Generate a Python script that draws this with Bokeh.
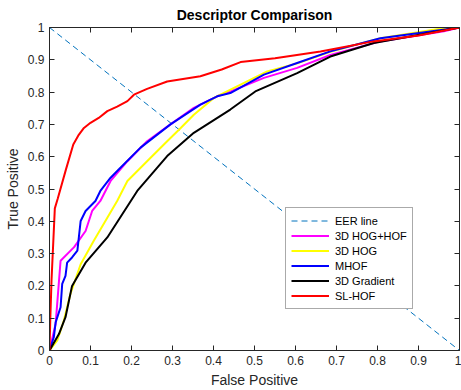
from bokeh.plotting import figure
from bokeh.models import (Range1d, LinearAxis, FixedTicker, NumeralTickFormatter, Legend,
                          LegendItem, CustomLabelingPolicy)
from bokeh.embed import file_html
from bokeh.resources import INLINE

# ---- data ----
eer_x = [0.0, 1.0]
eer_y = [1.0, 0.0]

hoghof_x = [0, 0.015, 0.027, 0.06, 0.088, 0.104, 0.124, 0.149, 0.19, 0.238, 0.295, 0.352, 0.409, 0.441, 0.523, 0.604, 0.685, 0.807, 0.962, 1.0]
hoghof_y = [0, 0.083, 0.278, 0.32, 0.37, 0.432, 0.463, 0.525, 0.586, 0.648, 0.70, 0.751, 0.787, 0.802, 0.844, 0.875, 0.915, 0.957, 0.988, 1.0]

hog_x = [0, 0.019, 0.035, 0.051, 0.076, 0.108, 0.141, 0.165, 0.19, 0.238, 0.287, 0.32, 0.352, 0.401, 0.466, 0.531, 0.604, 0.685, 0.807, 0.96, 1.0]
hog_y = [0, 0.031, 0.093, 0.175, 0.267, 0.34, 0.411, 0.463, 0.525, 0.586, 0.648, 0.689, 0.73, 0.782, 0.823, 0.864, 0.889, 0.925, 0.967, 0.998, 1.0]

mhof_x = [0, 0.0105, 0.015, 0.027, 0.031, 0.039, 0.043, 0.055, 0.068, 0.076, 0.088, 0.112, 0.124, 0.149, 0.173, 0.222, 0.295, 0.368, 0.409, 0.441, 0.523, 0.604, 0.685, 0.807, 1.0]
mhof_y = [0, 0.041, 0.087, 0.134, 0.206, 0.231, 0.272, 0.288, 0.309, 0.401, 0.432, 0.463, 0.494, 0.535, 0.566, 0.628, 0.70, 0.761, 0.787, 0.797, 0.854, 0.89, 0.926, 0.967, 1.0]

grad_x = [0, 0.023, 0.039, 0.055, 0.088, 0.141, 0.214, 0.287, 0.352, 0.441, 0.502, 0.604, 0.685, 0.791, 1.0]
grad_y = [0, 0.051, 0.103, 0.20, 0.272, 0.35, 0.494, 0.602, 0.674, 0.746, 0.802, 0.859, 0.91, 0.952, 1.0]

slhof_x = [0, 0.002, 0.005, 0.013, 0.02, 0.04, 0.058, 0.07, 0.084, 0.1, 0.12, 0.141, 0.165, 0.19, 0.206, 0.238, 0.287, 0.368, 0.42, 0.466, 0.55, 0.661, 0.79, 0.9, 1.0]
slhof_y = [0, 0.1, 0.22, 0.44, 0.47, 0.56, 0.638, 0.665, 0.689, 0.705, 0.72, 0.741, 0.755, 0.772, 0.792, 0.81, 0.833, 0.849, 0.87, 0.893, 0.905, 0.926, 0.957, 0.975, 1.0]

ticks = [0, 0.1, 0.2, 0.3, 0.4, 0.5, 0.6, 0.7, 0.8, 0.9, 1.0]

FONT = "Liberation Sans"
AX = "#262626"

p = figure(width=461, height=390, output_backend="svg", toolbar_location=None,
           x_range=Range1d(0, 1), y_range=Range1d(0, 1),
           x_axis_label="False Positive", y_axis_label="True Positive",
           min_border_left=49, min_border_right=2, min_border_top=26, min_border_bottom=40)
p.title.text = "Descriptor Comparison"
p.title.align = "center"
p.title.text_font = FONT
p.title.text_font_size = "14px"
p.title.text_font_style = "bold"
p.title.text_color = "#000000"
p.title.offset = 0
p.title.standoff = 9

p.grid.visible = False
p.outline_line_color = None
p.background_fill_color = "white"

p.add_layout(LinearAxis(), "above")
p.add_layout(LinearAxis(), "right")

for ax in p.axis:
    ax.ticker = FixedTicker(ticks=ticks)
    ax.formatter = NumeralTickFormatter(format="0.[0]")
    ax.major_tick_in = 5
    ax.major_tick_out = 0
    ax.minor_tick_line_color = None
    ax.axis_line_color = AX
    ax.major_tick_line_color = AX
    ax.major_label_text_font = FONT
    ax.major_label_text_font_size = "12px"
    ax.major_label_text_color = AX
    ax.axis_label_text_font = FONT
    ax.axis_label_text_font_size = "14px"
    ax.axis_label_text_font_style = "normal"
    ax.axis_label_text_color = AX
    ax.major_label_standoff = 5
    ax.axis_label_standoff = 4

# top and right axes: ticks only, no labels (box like the reference)
for ax in (p.above[0], p.right[0]):
    ax.major_label_policy = CustomLabelingPolicy(code="return [];")
    ax.major_label_text_font_size = "0px"
    ax.major_label_standoff = 0

r_eer = p.line(eer_x, eer_y, line_color="#0072BD", line_width=1, line_dash="6 4")
r1 = p.line(hoghof_x, hoghof_y, line_color="#FF00FF", line_width=2)
r2 = p.line(hog_x, hog_y, line_color="#FFFF00", line_width=2)
r3 = p.line(mhof_x, mhof_y, line_color="#0000FF", line_width=2)
r4 = p.line(grad_x, grad_y, line_color="#000000", line_width=2)
r5 = p.line(slhof_x, slhof_y, line_color="#FF0000", line_width=2)

legend = Legend(items=[
    LegendItem(label="EER line", renderers=[r_eer]),
    LegendItem(label="3D HOG+HOF", renderers=[r1]),
    LegendItem(label="3D HOG", renderers=[r2]),
    LegendItem(label="MHOF", renderers=[r3]),
    LegendItem(label="3D Gradient", renderers=[r4]),
    LegendItem(label="SL-HOF", renderers=[r5]),
], location=(236, 41))
legend.label_text_font = FONT
legend.label_text_font_size = "11px"
legend.label_text_color = "#000000"
legend.glyph_width = 38
legend.glyph_height = 15
legend.label_height = 15
legend.spacing = 0
legend.padding = 5
legend.margin = 0
legend.label_standoff = 6
legend.border_line_color = "#555555"
legend.border_line_width = 1
legend.background_fill_color = "white"
legend.background_fill_alpha = 1
p.add_layout(legend, "center")

open("out.html", "w").write(file_html(p, INLINE))
